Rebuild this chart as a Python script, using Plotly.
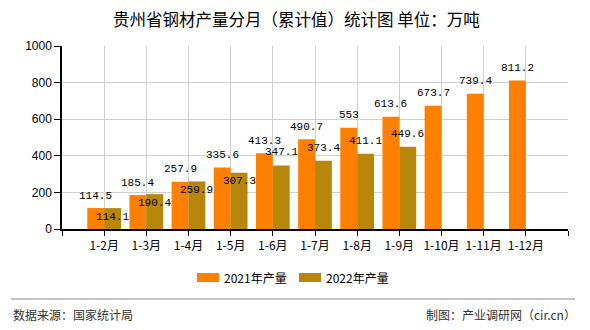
import plotly.graph_objects as go

categories = ["1-2月", "1-3月", "1-4月", "1-5月", "1-6月", "1-7月", "1-8月", "1-9月", "1-10月", "1-11月", "1-12月"]
values_2021 = [114.5, 185.4, 257.9, 335.6, 413.3, 490.7, 553, 613.6, 673.7, 739.4, 811.2]
values_2022 = [114.1, 190.4, 259.9, 307.3, 347.1, 373.4, 411.1, 449.6, None, None, None]
series_names = ["2021年产量", "2022年产量"]
y_ticks = [0, 200, 400, 600, 800, 1000]

# label placement style for 2022 (inside near top vs above the bar)
label_inside_2022 = [True, True, True, True, False, False, False, False, False, False, False]

C21 = "#FF8000"
C22 = "#B8860B"
CJK = "Noto Sans CJK SC"
MONO = "Liberation Mono"

W, H = 590, 330
L, R, T, B = 62, 22, 46, 101
PW, PH = W - L - R, H - T - B


def px(x):
    return (x - L) / PW


def py(y):
    return (H - B - y) / PH


xs = list(range(len(categories)))

fig = go.Figure()
fig.add_trace(go.Bar(x=xs, y=values_2021, name=series_names[0], marker=dict(color=C21, line=dict(width=0)),
                     showlegend=False))
fig.add_trace(go.Bar(x=xs, y=values_2022, name=series_names[1], marker=dict(color=C22, line=dict(width=0)),
                     showlegend=False))

annotations = []
for i, v in enumerate(values_2021):
    annotations.append(dict(x=i - 0.2, y=v, xref="x", yref="y", text=str(v), showarrow=False,
                            yanchor="middle", yshift=12.5, font=dict(family=MONO, size=11, color="#000")))
for i, v in enumerate(values_2022):
    if v is None:
        continue
    annotations.append(dict(x=i + 0.2, y=v, xref="x", yref="y", text=str(v), showarrow=False,
                            yanchor="middle", yshift=-8.5 if label_inside_2022[i] else 13,
                            font=dict(family=MONO, size=11, color="#000")))

# title
annotations.append(dict(x=px(296), y=py(19), xref="paper", yref="paper", text="贵州省钢材产量分月（累计值）统计图 单位：万吨",
                        showarrow=False, xanchor="center", yanchor="middle",
                        font=dict(family=CJK, size=16.5, color="#000")))
# footer
annotations.append(dict(x=px(11), y=py(314), xref="paper", yref="paper", text="数据来源：国家统计局",
                        showarrow=False, xanchor="left", yanchor="middle",
                        font=dict(family=CJK, size=12, color="#333")))
annotations.append(dict(x=px(578), y=py(314), xref="paper", yref="paper", text="制图：产业调研网（cir.cn）",
                        showarrow=False, xanchor="right", yanchor="middle",
                        font=dict(family=CJK, size=12, color="#333")))

shapes = [dict(type="line", xref="paper", yref="paper", x0=px(11), x1=px(575), y0=py(299), y1=py(299),
               line=dict(color="#888", width=1))]

# legend (custom)
leg = [(197, series_names[0], C21), (299, series_names[1], C22)]
for x0, name, col in leg:
    shapes.append(dict(type="rect", xref="paper", yref="paper", x0=px(x0), x1=px(x0 + 22),
                       y0=py(282), y1=py(273), fillcolor=col, line=dict(width=0)))
    annotations.append(dict(x=px(x0 + 25), y=py(277.5), xref="paper", yref="paper", text=name,
                            showarrow=False, xanchor="left", yanchor="middle",
                            font=dict(family=CJK, size=12, color="#000")))

fig.update_layout(
    width=W, height=H,
    margin=dict(l=L, r=R, t=T, b=B),
    paper_bgcolor="white", plot_bgcolor="white",
    barmode="group", bargap=0.2, bargroupgap=0,
    annotations=annotations, shapes=shapes,
    showlegend=False,
    xaxis=dict(range=[-1, 11], tickmode="array", tickvals=list(range(-1, 12)),
               ticktext=[""] + categories + [""],
               showgrid=True, gridcolor="#d0d0d0", gridwidth=1,
               showline=True, linecolor="#000", linewidth=1.5,
               ticks="outside", ticklen=5, tickcolor="#000",
               tickfont=dict(family=CJK, size=12, color="#000"), zeroline=False, fixedrange=True),
    yaxis=dict(range=[0, 1000], tickvals=y_ticks, showgrid=True, gridcolor="#d0d0d0", gridwidth=1,
               showline=True, linecolor="#000", linewidth=1.5,
               ticks="outside", ticklen=6, tickcolor="#000",
               tickfont=dict(family="Liberation Sans", size=12, color="#000"), zeroline=False),
)

fig.write_html("out.html")
